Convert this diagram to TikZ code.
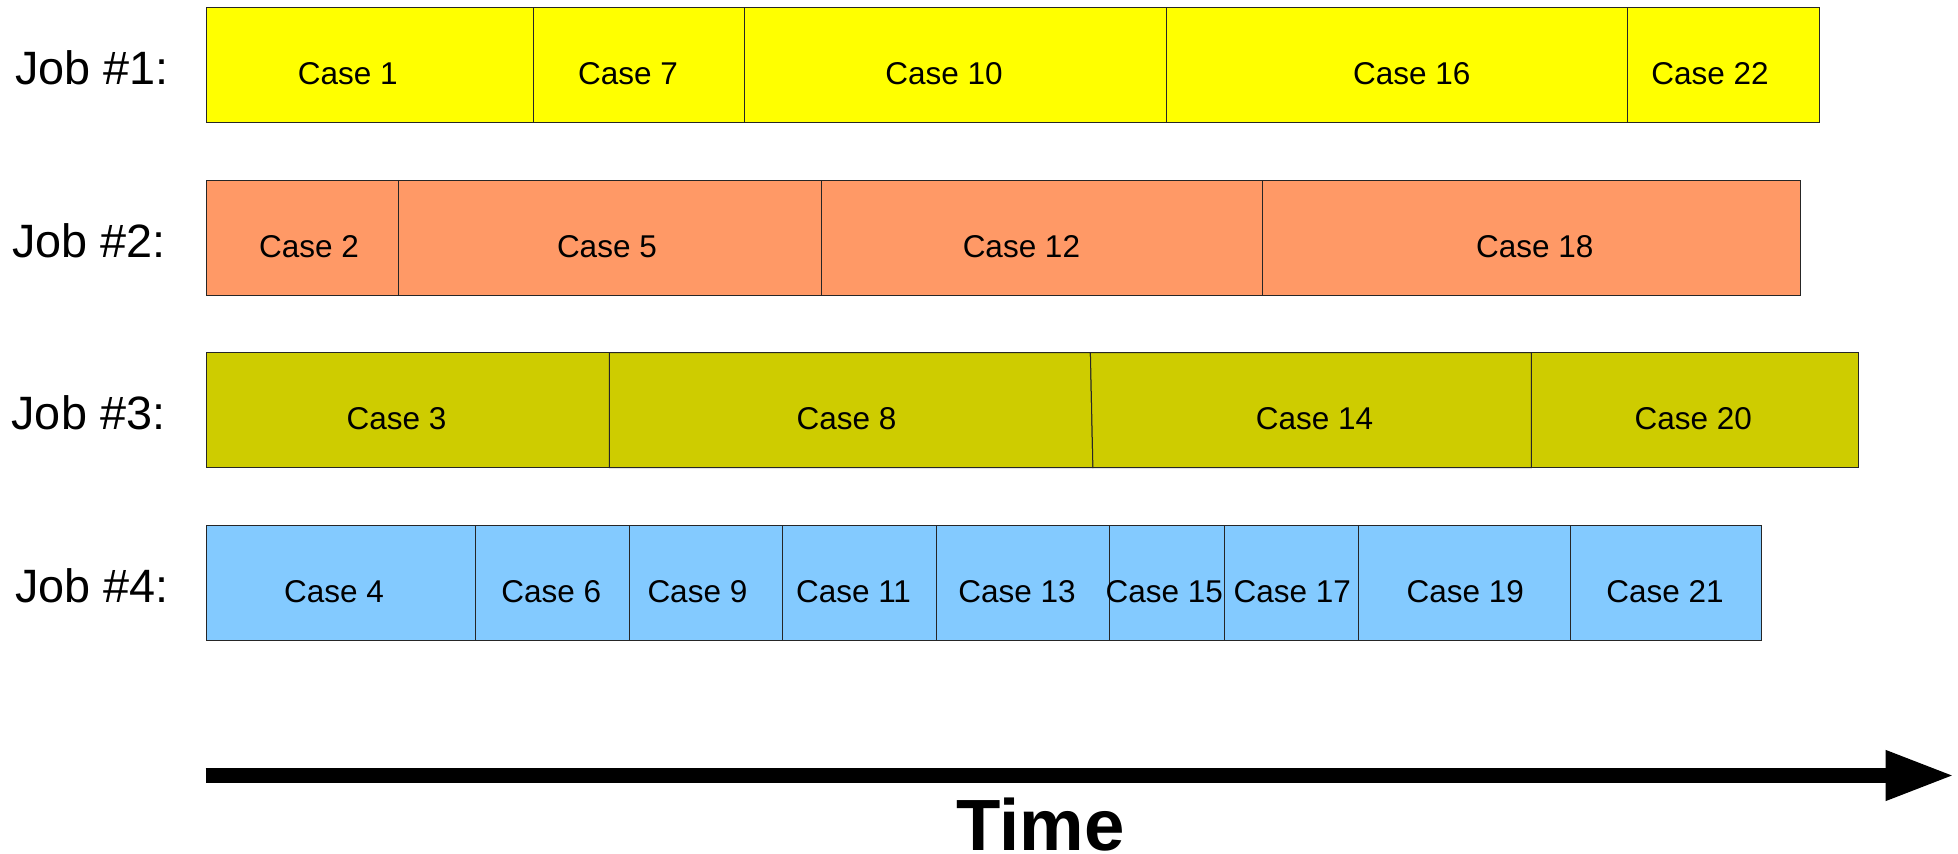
\documentclass[tikz,border=0pt]{standalone}
\usepackage{fontspec}
\setmainfont{Liberation Sans}
\usetikzlibrary{arrows.meta}
\definecolor{cyel}{RGB}{255,255,0}
\definecolor{corg}{RGB}{255,153,102}
\definecolor{colv}{RGB}{206,204,0}
\definecolor{cblu}{RGB}{131,202,255}
\tikzset{
  box/.style={draw=black!85, line width=0.5pt, line join=miter},
  casetext/.style={font=\fontsize{15.75}{18}\selectfont, anchor=base, inner sep=0pt},
  joblabel/.style={font=\fontsize{23.4}{27}\selectfont, anchor=base west, inner sep=0pt},
  timetext/.style={font=\bfseries\fontsize{36.3}{40}\selectfont, anchor=base, inner sep=0pt}
}
\begin{document}
\begin{tikzpicture}[x=0.5pt,y=-0.5pt]
\useasboundingbox (0,0) rectangle (1958,854);
% Row 1
\filldraw[box, fill=cyel] (206,7.3) rectangle (533.3,122.3);
\filldraw[box, fill=cyel] (533.3,7.3) rectangle (744,122.3);
\filldraw[box, fill=cyel] (744,7.3) rectangle (1166.7,122.3);
\filldraw[box, fill=cyel] (1166.7,7.3) rectangle (1627.5,122.3);
\filldraw[box, fill=cyel] (1627.5,7.3) rectangle (1819.5,122.3);
\node[joblabel] (j1) at (15,84.3) {Job \#1:};
\node[casetext] (c1) at (347.8,84.3) {Case 1};
\node[casetext] (c7) at (628.1,84.3) {Case 7};
\node[casetext] (c10) at (944,84.3) {Case 10};
\node[casetext] (c16) at (1411.7,84.3) {Case 16};
\node[casetext] (c22) at (1710.1,84.3) {Case 22};
% Row 2
\filldraw[box, fill=corg] (206,180.3) rectangle (398.6,295.3);
\filldraw[box, fill=corg] (398.6,180.3) rectangle (821,295.3);
\filldraw[box, fill=corg] (821,180.3) rectangle (1262.5,295.3);
\filldraw[box, fill=corg] (1262.5,180.3) rectangle (1800,295.3);
\node[joblabel] (j2) at (11.8,257.3) {Job \#2:};
\node[casetext] (c2) at (309,257.3) {Case 2};
\node[casetext] (c5) at (606.9,257.3) {Case 5};
\node[casetext] (c12) at (1021.4,257.3) {Case 12};
\node[casetext] (c18) at (1534.7,257.3) {Case 18};
% Row 3
\filldraw[box, fill=colv] (206,352.7) rectangle (609.4,467.7);
\filldraw[box, fill=colv] (609.4,352.7) -- (1090.4,352.7) -- (1092.9,467.7) -- (609.4,467.7) -- cycle;
\filldraw[box, fill=colv] (1090.4,352.7) -- (1531.3,352.7) -- (1531.3,467.7) -- (1092.9,467.7) -- cycle;
\filldraw[box, fill=colv] (1531.3,352.7) rectangle (1858.2,467.7);
\node[joblabel] (j3) at (11.2,429.7) {Job \#3:};
\node[casetext] (c3) at (396.5,429.7) {Case 3};
\node[casetext] (c8) at (846.6,429.7) {Case 8};
\node[casetext] (c14) at (1314.5,429.7) {Case 14};
\node[casetext] (c20) at (1693.3,429.7) {Case 20};
% Row 4
\filldraw[box, fill=cblu] (206,525.7) rectangle (475.3,640.7);
\filldraw[box, fill=cblu] (475.3,525.7) rectangle (629,640.7);
\filldraw[box, fill=cblu] (629,525.7) rectangle (782.7,640.7);
\filldraw[box, fill=cblu] (782.7,525.7) rectangle (936.4,640.7);
\filldraw[box, fill=cblu] (936.4,525.7) rectangle (1109.2,640.7);
\filldraw[box, fill=cblu] (1109.2,525.7) rectangle (1224.2,640.7);
\filldraw[box, fill=cblu] (1224.2,525.7) rectangle (1358.6,640.7);
\filldraw[box, fill=cblu] (1358.6,525.7) rectangle (1570,640.7);
\filldraw[box, fill=cblu] (1570,525.7) rectangle (1761.9,640.7);
\node[joblabel] (j4) at (15,602.7) {Job \#4:};
\node[casetext] (c4) at (334,602.7) {Case 4};
\node[casetext] (c6) at (551.3,602.7) {Case 6};
\node[casetext] (c9) at (697.4,602.7) {Case 9};
\node[casetext] (c11) at (853.5,602.7) {Case 11};
\node[casetext] (c13) at (1017,602.7) {Case 13};
\node[casetext] (c15) at (1164.2,602.7) {Case 15};
\node[casetext] (c17) at (1292.2,602.7) {Case 17};
\node[casetext] (c19) at (1465.2,602.7) {Case 19};
\node[casetext] (c21) at (1665,602.7) {Case 21};
% Time arrow
\coordinate (tstart) at (205.5,775.5);
\coordinate (tend) at (1955,775.5);
\draw[line width=7.8pt, -{Triangle[length=34.7pt, width=23pt]}] (tstart) -- (tend);
\node[timetext] (time) at (1040.8,850.5) {Time};
\end{tikzpicture}
\end{document}
